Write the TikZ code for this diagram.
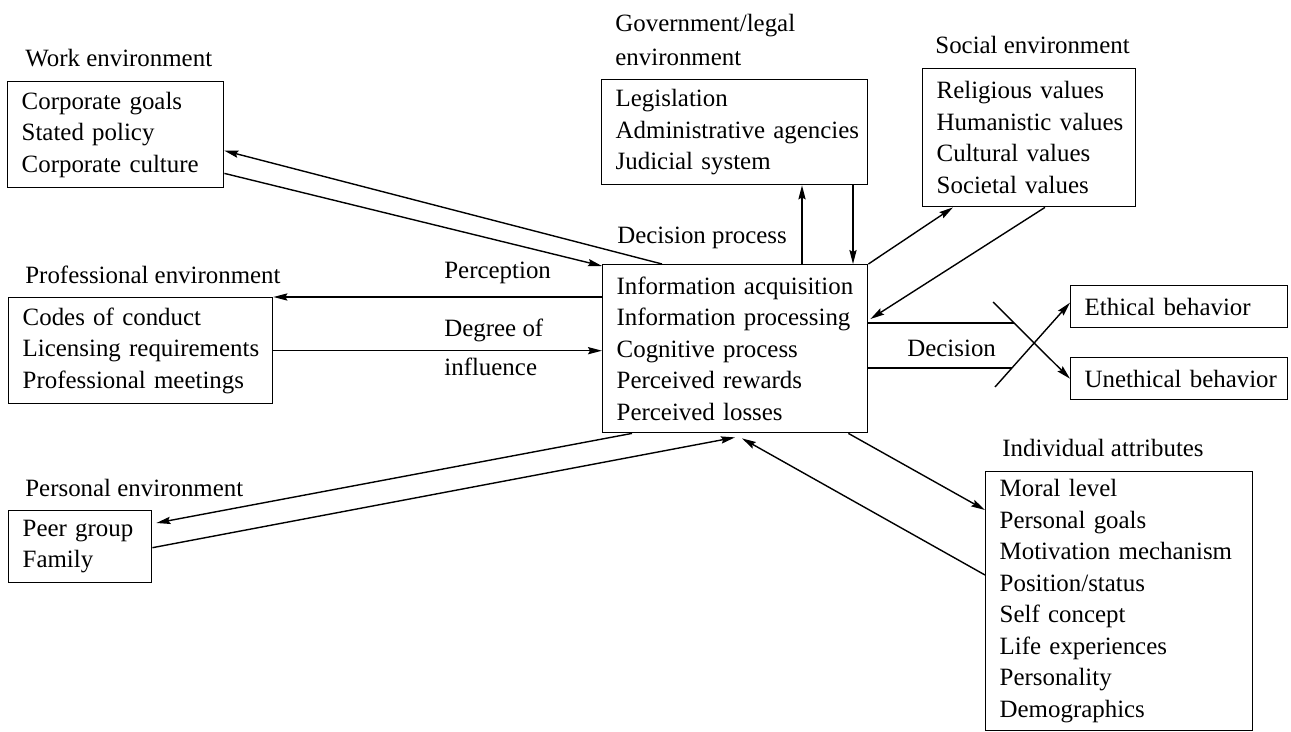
\documentclass[tikz,border=0pt]{standalone}
\usepackage{fontspec}
\setmainfont{Liberation Serif}
\usetikzlibrary{arrows.meta, positioning, calc}

\newcommand{\diafont}{\fontsize{12.45pt}{15.75pt}\selectfont}

\begin{document}
\begin{tikzpicture}[x=0.5pt, y=-0.5pt, font=\diafont,
    envbox/.style={draw, line width=0.7pt, anchor=north west, align=left, inner xsep=0pt, inner ysep=2pt,
      execute at begin node={\leftskip=7pt\hyphenpenalty=10000}},
    lbl/.style={anchor=west, inner sep=0pt},
    link/.style={line width=0.7pt, -{Stealth[length=7pt, width=3.6pt, inset=1pt]}},
    plain/.style={line width=0.7pt}]
  \useasboundingbox (0,0) rectangle (1291,732);

  % environment boxes
  \node[envbox, text width=108pt, minimum height=53pt] (work) at (7,81) {Corporate goals\\Stated policy\\Corporate culture};
  \node[envbox, text width=133pt, minimum height=52.5pt] (gov) at (601,79) {Legislation\\Administrative agencies\\Judicial system};
  \node[envbox, text width=106.5pt, minimum height=69pt] (social) at (922,68) {Religious values\\Humanistic values\\Cultural values\\Societal values};
  \node[envbox, text width=132.5pt, minimum height=84pt] (ctr) at (602,264) {Information acquisition\\Information processing\\Cognitive process\\Perceived rewards\\Perceived losses};
  \node[envbox, text width=132pt, minimum height=53pt] (prof) at (8,297) {Codes of conduct\\Licensing requirements\\Professional meetings};
  \node[envbox, text width=71.5pt, minimum height=36pt] (personal) at (8,510) {Peer group\\Family};
  \node[envbox, text width=133.5pt, minimum height=129.5pt] (indiv) at (985,471) {Moral level\\Personal goals\\Motivation mechanism\\Position/status\\Self concept\\Life experiences\\Personality\\Demographics};
  \node[envbox, text width=108.5pt, minimum height=21pt] (ethical) at (1070,285) {Ethical behavior};
  \node[envbox, text width=108.5pt, minimum height=21pt] (unethical) at (1070,357) {Unethical behavior};

  % headings and edge labels
  \node[lbl] (workl) at (25,58) {Work environment};
  \node[lbl, align=left] (govl) at (615,40) {Government/legal\\[1.25pt]environment};
  \node[lbl] (sociall) at (935,45) {Social environment};
  \node[lbl] (profl) at (25,275) {Professional environment};
  \node[lbl] (persl) at (25,488) {Personal environment};
  \node[lbl] (indivl) at (1002,448) {Individual attributes};
  \node[lbl] (dproc) at (617,238) {Decision process};
  \node[lbl] (percep) at (444,273) {Perception};
  \node[lbl, align=left] (degree) at (444,347) {Degree of\\[3.75pt]influence};
  \node[lbl] (dec) at (907,348) {Decision};

  % free ends of the decision fork
  \coordinate (xa) at (993,302);
  \coordinate (xb) at (995,387);
  \coordinate (dtop) at (1014,323);
  \coordinate (dbot) at (1012,368);

  % connectors
  \draw[link] ($(ctr.north west)+(60,0)$) -- ($(work.east)+(0,16)$);
  \draw[link] ($(work.south east)+(0,-15)$) -- ($(ctr.north west)+(0,2)$);
  \draw[link] ($(ctr.north west)+(0,33)$) -- (prof.north east);
  \draw[link] (prof.east) -- (prof.east -| ctr.west);
  \draw[link] ($(ctr.south west)+(30,0)$) -- ($(personal.north east)+(4,13)$);
  \draw[link] ($(personal.east)+(0,1)$) -- ($(ctr.south west)+(133,4)$);
  \draw[link] ($(ctr.north west)+(200,0)$) -- ($(gov.south west)+(201,0)$);
  \draw[link] ($(gov.south west)+(252,0)$) -- ($(ctr.north west)+(251,0)$);
  \draw[link] (ctr.north east) -- ($(social.south west)+(31,0)$);
  \draw[link] ($(social.south west)+(123,0)$) -- ($(ctr.north east)+(2,55)$);
  \draw[link] ($(ctr.south east)+(-20,0)$) -- ($(indiv.north west)+(0,39)$);
  \draw[link] ($(indiv.north west)+(0,104)$) -- ($(ctr.south west)+(140,5)$);

  % decision fork
  \draw[plain] (ctr.east |- dtop) -- (dtop);
  \draw[plain] (ctr.east |- dbot) -- (dbot);
  \draw[link] (xa) -- (unethical.west);
  \draw[link] (xb) -- ($(ethical.west)+(0,-4)$);
\end{tikzpicture}
\end{document}
